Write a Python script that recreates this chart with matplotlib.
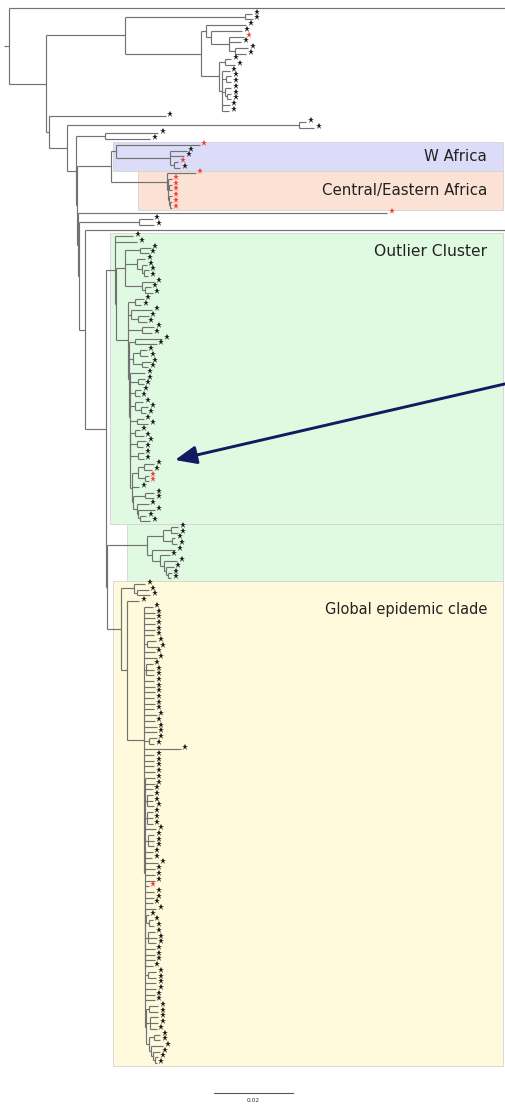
import matplotlib
matplotlib.use("Agg")
import matplotlib.pyplot as plt
from matplotlib.collections import LineCollection
from matplotlib.patches import Rectangle
from matplotlib.transforms import offset_copy

# Phylogeny in a compact Newick-like notation.
# Number after ':' = root-to-node distance (units of 0.001 substitutions/site).
# Tip labels: k = black star, r = red star, n = unlabelled tip.
TOP_CLADE = ("((k:62.8,k:63.0):61.0,((k:61.3,(k:60.3,(r:60.8,k:60.0,(k:61.8,k:61.3):58.5):57.0):52.4):51.1,"
             "((k:57.5,k:58.5):55.9,(k:57.2,(k:57.5,k:57.5):56.2,(k:57.5,(k:57.5,k:57.5):56.4):55.9,"
             "k:57.2,k:57.0):55.2):54.4):49.9):30.6")
W_AFRICA = "(r:49.6,(k:46.3,k:45.6,(r:44.1,k:44.6):43.0):42.0):28.4"
CE_AFRICA = "(r:48.6,(r:42.5,(r:42.5,r:42.5):41.8,(r:42.5,(r:42.5,r:42.5):42.0):41.8):41.5):41.3"

OUT_A = ("((k:37.2,k:36.7):34.4,(k:35.7,(k:36.2,(k:36.7,k:36.5):35.4):34.9):33.7,"
         "(k:38.0,(k:37.2,k:37.7):35.7):34.9):30.6")
OUT_G = "((k:38.0,k:38.0):35.7,(k:36.7,(k:38.2,(k:36.0,k:37.0):34.4):33.9):33.7):32.7"
OUT_F = "(((k:38.0,k:37.5):35.4,(r:36.7,r:36.7):35.7):33.9,k:34.2," + OUT_G + "):32.4"
OUT_E = "((k:34.4,k:35.4):33.2,(k:36.0,k:35.2):33.7,(k:35.4,k:35.4):33.9," + OUT_F + "):32.0"
OUT_D = ("(k:35.7,(k:35.7,k:35.4):33.9,(k:34.7,k:34.4):33.2,(k:35.2,(k:36.5,k:36.0):34.7):33.2,"
         "(k:35.4,k:36.5):33.7," + OUT_E + "):31.9")
OUT_C = "((k:40.0,k:38.7):33.2,((k:36.2,k:36.5):34.4,(k:37.2,k:36.5):34.9):32.7," + OUT_D + "):31.7"
OUT_B = "((k:35.4,k:34.7):33.2,(k:37.5,(k:36.7,k:36.2):33.9):32.2,(k:38.0,k:37.5):34.9," + OUT_C + "):31.4"
OUTLIER = "(k:32.7,k:33.7,(" + OUT_A + "," + OUT_B + "):28.3):28.1"

CLADE2 = ("(((k:44.1,k:44.1):42.3,(k:43.3,k:43.8):42.5):40.3,"
          "(k:43.3,(k:42.0,(k:43.8,(k:43.0,(k:42.5,k:42.3):41.5):41.0):40.5):39.5):37.5):36.2")

GLOB_F = ("((k:39.0,k:39.0):36.7,(k:39.0,k:39.0,k:38.7):37.0,"
          "((k:39.5,k:39.5):38.0,(k:40.3,(k:39.5,(k:39.0,k:38.7):38.2):37.7):37.2):36.7):36.0")
GLOB_E = ("(k:38.5,(k:36.7,(k:37.7,k:38.0):36.7):36.0,(k:38.2,k:38.7,k:38.5):36.4,k:38.2,k:38.2,k:38.2,"
          "k:37.7,(k:38.5,k:38.5):36.4,k:38.5,k:38.5,k:38.2,k:38.2," + GLOB_F + "):35.8")
GLOB_D = ("(k:38.2,k:38.2,k:37.7,(k:37.7,k:37.7,k:38.0):36.2,(k:37.7,k:37.7,k:37.7):36.2,k:38.5,"
          "(k:38.0,k:38.0,k:38.0):36.4,k:37.7,k:37.5,k:39.0,k:38.2,k:38.2,k:38.2,r:36.7,k:38.0,k:38.0,"
          "k:37.7," + GLOB_E + "):35.6")
GLOB_C = ("(k:37.7,k:38.2,k:38.2,k:38.2,k:38.2,k:38.0,(k:38.5,k:39.2):36.2,k:38.2,k:38.7,"
          "(k:37.7,k:38.0,k:38.0):35.9,k:38.0,k:38.2,k:38.2,k:38.0,k:38.2,k:38.0,k:38.7,k:38.2,k:38.7,"
          "k:38.7,(k:38.7,k:38.0):36.7,k:44.8,k:38.0,k:38.0,k:38.0,k:38.2," + GLOB_D + "):35.5")
GLOBAL = "((k:35.7,(k:36.7,k:37.0):33.7):32.9,(k:34.2," + GLOB_C + "):31.1):29.6"

# Backbone joining the clades
NODE_G2 = "(" + CLADE2 + "," + GLOBAL + "):26.1"
NODE_G1 = "(" + OUTLIER + "," + NODE_G2 + "):25.8"
NODE_H = "(n:130," + NODE_G1 + "):20.5"
NODE_E3 = "((k:37.7,k:38.0):34.2," + NODE_H + "):19.0"
NODE_E2 = "(r:97.0," + NODE_E3 + "):18.7"
NODE_F = "(" + W_AFRICA + "," + CE_AFRICA + "):27.1"
NODE_E1 = "(" + NODE_F + "," + NODE_E2 + "):18.5"
NODE_E = "((k:39.0,k:37.0):25.6," + NODE_E1 + "):18.2"
NODE_D = "((k:76.5,k:78.5):74.7," + NODE_E + "):15.9"
NODE_C = "(k:41.0," + NODE_D + "):11.4"
NODE_B = "(" + TOP_CLADE + "," + NODE_C + "):10.6"
TREE = "((n:130," + NODE_B + "):1.3):0"

# Shaded clade boxes: (label, clade, left edge distance, colour, label offset in tips, font size)
BOXES = [
    ("W Africa", W_AFRICA, 27.6, "#dcdcf8", None, 10.8),
    ("Central/Eastern Africa", CE_AFRICA, 33.9, "#fce2d4", None, 10.8),
    ("Outlier Cluster", OUTLIER, 26.8, "#e0fae2", 3.2, 11.2),
    ("", CLADE2, 31.1, "#e0fae2", None, 10.8),
    ("Global epidemic clade", GLOBAL, 27.6, "#fffadc", 5.0, 10.5),
]
SCALE_BAR = 20.0  # 0.02 substitutions/site


def parse(s):
    pos = 0

    def node():
        nonlocal pos
        kids, label = [], None
        if s[pos] == "(":
            pos += 1
            kids.append(node())
            while s[pos] == ",":
                pos += 1
                kids.append(node())
            pos += 1  # ')'
        else:
            label = s[pos]
            pos += 1
        pos += 1  # ':'
        j = pos
        while pos < len(s) and (s[pos].isdigit() or s[pos] == "."):
            pos += 1
        return {"kids": kids, "label": label, "x": float(s[j:pos])}

    return node()


tree = parse(TREE)
tips = []


def layout(n):
    if not n["kids"]:
        n["y"] = len(tips)
        tips.append(n)
    else:
        for k in n["kids"]:
            layout(k)
        n["y"] = 0.5 * (n["kids"][0]["y"] + n["kids"][-1]["y"])


layout(tree)

segs = []


def collect(n):
    for k in n["kids"]:
        segs.append([(n["x"], k["y"]), (k["x"], k["y"])])
        collect(k)
    if n["kids"]:
        segs.append([(n["x"], n["kids"][0]["y"]), (n["x"], n["kids"][-1]["y"])])


collect(tree)


def subtree_key(n):
    if not n["kids"]:
        return (n["label"], n["x"])
    return (n["x"], tuple(subtree_key(k) for k in n["kids"]))


index = {}


def register(n):
    index[subtree_key(n)] = n
    for k in n["kids"]:
        register(k)


register(tree)


def tip_range(n):
    if not n["kids"]:
        return n["y"], n["y"]
    return tip_range(n["kids"][0])[0], tip_range(n["kids"][-1])[1]


W, H = 505, 1104
fig = plt.figure(figsize=(W / 100, H / 100), dpi=100)
ax = fig.add_axes([0, 0, 1, 1])
ax.set_axis_off()

px_per_unit = 3.95
tip_px = 5.703
x_left = -4 / px_per_unit
x_right = x_left + W / px_per_unit
y_top = -8 / tip_px
ax.set_xlim(x_left, x_right)
ax.set_ylim(y_top + H / tip_px, y_top)

# clade boxes and their labels
box_right = x_right - 2 / px_per_unit
label_x = x_right - 18 / px_per_unit
for label, clade, left, colour, lab_off, fsize in BOXES:
    node = index[subtree_key(parse(clade))]
    y0, y1 = tip_range(node)
    y0 -= 0.5
    y1 += 0.5
    ax.add_patch(Rectangle((left, y0), box_right - left, y1 - y0, facecolor=colour,
                           edgecolor="#d4d4d4", linewidth=0.6, zorder=0))
    if label:
        ly = 0.5 * (y0 + y1) if lab_off is None else y0 + lab_off
        ax.text(label_x, ly, label, ha="right", va="center", fontsize=fsize,
                color="#222222", family="DejaVu Sans", zorder=3)

ax.add_collection(LineCollection(segs, colors="#727272", linewidths=0.85, zorder=2))

star_tr = offset_copy(ax.transData, fig=fig, x=4.5, y=2.0, units="dots")
for lab, col in (("k", "#1a1a1a"), ("r", "#f03c3c")):
    xs = [t["x"] for t in tips if t["label"] == lab]
    ys = [t["y"] for t in tips if t["label"] == lab]
    ax.plot(xs, ys, linestyle="none", marker="*", markersize=5.0, color=col,
            markeredgewidth=0, transform=star_tr, zorder=4)

# arrow pointing into the outlier cluster
ax.annotate("", xy=((175 - 4) / px_per_unit, (460 - 8) / tip_px),
            xytext=(x_right + 1, (383 - 8) / tip_px),
            arrowprops=dict(arrowstyle="-|>,head_length=1.3,head_width=0.55",
                            color="#141a60", lw=2.1, shrinkA=0, shrinkB=0),
            zorder=5)

# scale bar
sb_x = (214 - 4) / px_per_unit
sb_y = (1093 - 8) / tip_px
ax.plot([sb_x, sb_x + SCALE_BAR], [sb_y, sb_y], color="#555555", lw=0.8)
ax.text(sb_x + SCALE_BAR / 2, sb_y + 1.3, "0.02", ha="center", va="center",
        fontsize=4.2, color="#333333")

fig.savefig("out.png", dpi=100, facecolor="white")
